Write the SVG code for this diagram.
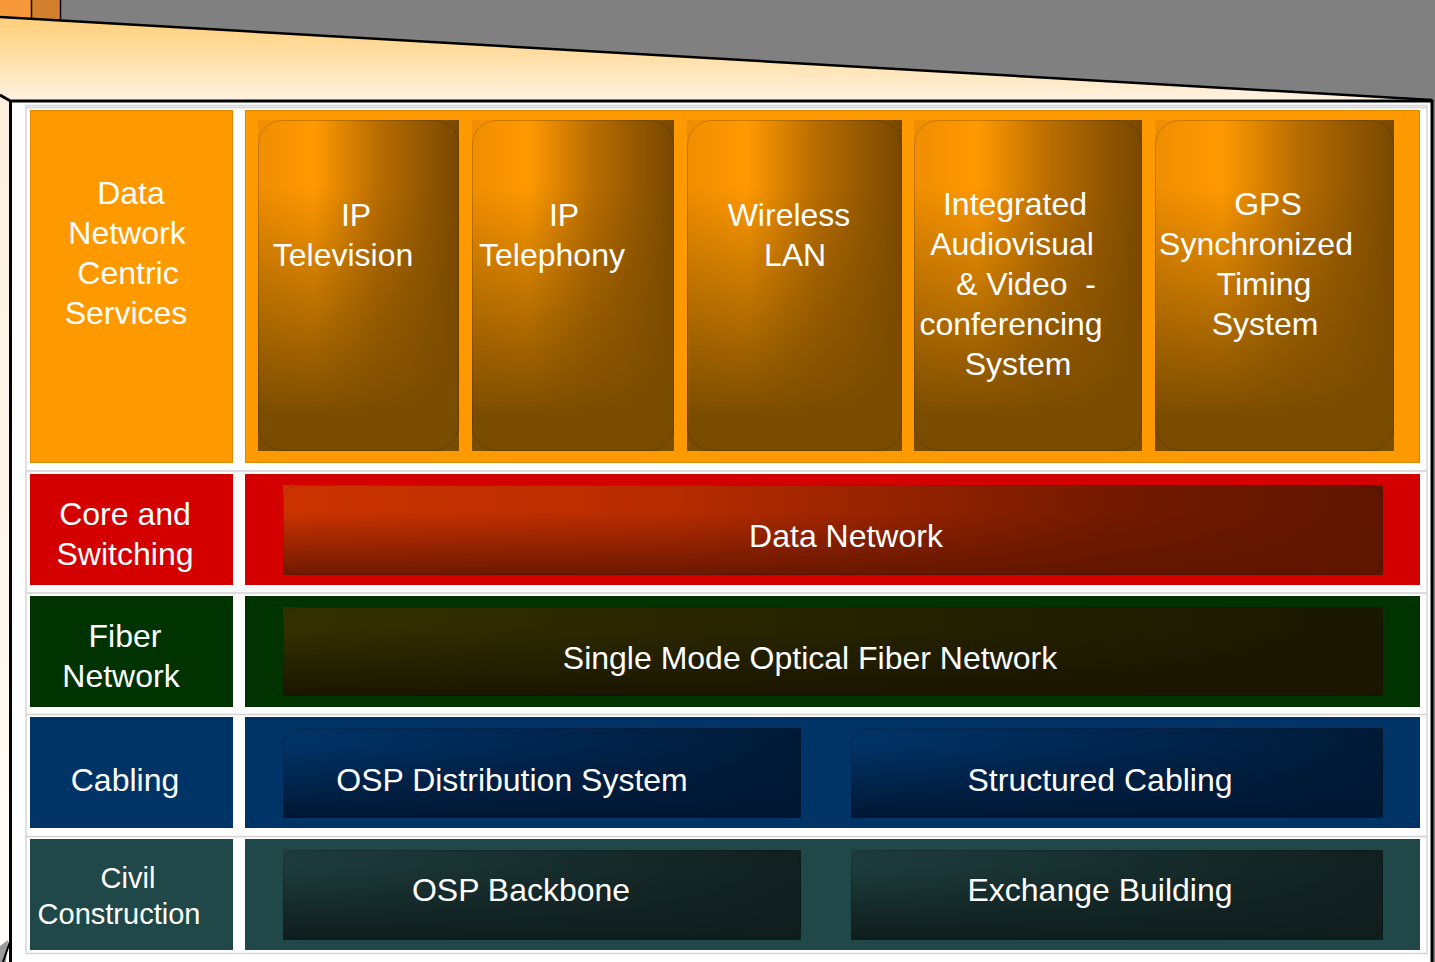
<svg xmlns="http://www.w3.org/2000/svg" width="1435" height="962" viewBox="0 0 1435 962">
  <defs>
    <linearGradient id="sky" gradientUnits="userSpaceOnUse" x1="0" y1="18" x2="0" y2="102">
      <stop offset="0" stop-color="#FFCF7A"/>
      <stop offset="0.5" stop-color="#FFE0AA"/>
      <stop offset="1" stop-color="#FFF4E6"/>
    </linearGradient>
    <linearGradient id="side" x1="0" y1="0" x2="0" y2="1">
      <stop offset="0" stop-color="#FFF0DD"/>
      <stop offset="1" stop-color="#FFFDFA"/>
    </linearGradient>
    <!-- service tiles: orange to brown sideways, brown toward the bottom -->
    <linearGradient id="orH" x1="0" y1="0" x2="1" y2="0">
      <stop offset="0" stop-color="#F08E00"/>
      <stop offset="0.28" stop-color="#FF9900"/>
      <stop offset="0.6" stop-color="#B86C00"/>
      <stop offset="1" stop-color="#784800"/>
    </linearGradient>
    <linearGradient id="orV" x1="0" y1="0" x2="0" y2="1">
      <stop offset="0" stop-color="#7A4C00" stop-opacity="0"/>
      <stop offset="0.2" stop-color="#7A4C00" stop-opacity="0"/>
      <stop offset="0.9" stop-color="#7A4C00" stop-opacity="1"/>
      <stop offset="1" stop-color="#7A4C00" stop-opacity="1"/>
    </linearGradient>
    <linearGradient id="rdH" x1="0" y1="0" x2="1" y2="0">
      <stop offset="0" stop-color="#CC3300"/>
      <stop offset="0.35" stop-color="#B82C00"/>
      <stop offset="0.75" stop-color="#741A00"/>
      <stop offset="1" stop-color="#5E1500"/>
    </linearGradient>
    <linearGradient id="rdV" x1="0" y1="0" x2="0" y2="1">
      <stop offset="0" stop-color="#5E1500" stop-opacity="0"/>
      <stop offset="0.3" stop-color="#5E1500" stop-opacity="0"/>
      <stop offset="1" stop-color="#5E1500" stop-opacity="0.85"/>
    </linearGradient>
    <linearGradient id="gnH" x1="0" y1="0" x2="1" y2="0">
      <stop offset="0" stop-color="#333000"/>
      <stop offset="0.5" stop-color="#262300"/>
      <stop offset="1" stop-color="#1A1700"/>
    </linearGradient>
    <linearGradient id="gnV" x1="0" y1="0" x2="0" y2="1">
      <stop offset="0" stop-color="#1A1600" stop-opacity="0"/>
      <stop offset="0.25" stop-color="#1A1600" stop-opacity="0"/>
      <stop offset="1" stop-color="#1A1600" stop-opacity="1"/>
    </linearGradient>
    <linearGradient id="blH" x1="0" y1="0" x2="1" y2="0">
      <stop offset="0" stop-color="#003366"/>
      <stop offset="0.5" stop-color="#002650"/>
      <stop offset="1" stop-color="#001A36"/>
    </linearGradient>
    <linearGradient id="blV" x1="0" y1="0" x2="0" y2="1">
      <stop offset="0" stop-color="#001733" stop-opacity="0"/>
      <stop offset="0.2" stop-color="#001733" stop-opacity="0"/>
      <stop offset="1" stop-color="#001733" stop-opacity="1"/>
    </linearGradient>
    <linearGradient id="tlH" x1="0" y1="0" x2="1" y2="0">
      <stop offset="0" stop-color="#1E3C3C"/>
      <stop offset="0.5" stop-color="#172E2E"/>
      <stop offset="1" stop-color="#112020"/>
    </linearGradient>
    <linearGradient id="tlV" x1="0" y1="0" x2="0" y2="1">
      <stop offset="0" stop-color="#0F1D1D" stop-opacity="0"/>
      <stop offset="0.2" stop-color="#0F1D1D" stop-opacity="0"/>
      <stop offset="1" stop-color="#0F1D1D" stop-opacity="1"/>
    </linearGradient>
  </defs>
  <style>
    text { font-family: "Liberation Sans", Arial, sans-serif; font-size: 32px; fill: #FFFFFF; text-anchor: middle; }
    .small { font-size: 29px; }
    .edge { fill: none; stroke: #000000; stroke-width: 3; }
    .div { stroke: #D2D2D2; stroke-width: 1.5; }
    .tileLine { fill: none; stroke: #000000; stroke-opacity: 0.18; stroke-width: 1; }
    .orange { fill: #FF9900; stroke: #E08700; stroke-width: 1; }
    .red { fill: #D40000; }
    .green { fill: #003300; }
    .blue { fill: #003366; }
    .teal { fill: #214848; }
  </style>

  <!-- backdrop -->
  <rect x="0" y="0" width="1435" height="962" fill="#808080"/>
  <polygon points="0,17 1432,100 1435,100 1435,962 0,962" fill="url(#sky)"/>
  <rect x="0" y="96" width="12" height="866" fill="url(#side)"/>
  <rect x="0" y="0" width="31" height="18" fill="#F7993A"/>
  <rect x="32" y="0" width="28" height="19" fill="#D2802E"/>
  <line x1="31.5" y1="0" x2="31.5" y2="18" stroke="#000" stroke-width="1.5"/>
  <line x1="60.5" y1="0" x2="60.5" y2="20" stroke="#000" stroke-width="1.5"/>
  <line x1="0" y1="17" x2="1432" y2="100" stroke="#000" stroke-width="2.5"/>
  <polygon points="1432,100 1435,100 1435,962 1432,962" fill="#808080"/>
  <polygon points="0,946 8,940 6,962 0,962" fill="#9A9A9A"/>

  <!-- panel -->
  <rect x="11" y="101" width="1421" height="861" fill="#FFFFFF"/>
  <path class="edge" d="M0,95 L10.5,101 L10.5,962 M10.5,101 L1432,101 L1432,962"/>
  <path d="M10.5,940 L3,962" stroke="#000" stroke-width="2" fill="none"/>
  <rect x="26" y="105.5" width="1401" height="848" fill="none" stroke="#D6D6D6" stroke-width="1.5"/>
  <g id="dividers">
    <line class="div" x1="26" y1="107.5" x2="1427" y2="107.5"/>
    <line class="div" x1="26" y1="471" x2="1427" y2="471"/>
    <line class="div" x1="26" y1="593" x2="1427" y2="593"/>
    <line class="div" x1="26" y1="714.5" x2="1427" y2="714.5"/>
    <line class="div" x1="26" y1="836.5" x2="1427" y2="836.5"/>
  </g>

  <!-- layer: services -->
  <g id="layer-services">
    <rect class="orange" x="30.5" y="110.5" width="202" height="352"/>
    <rect class="orange" x="245.5" y="110.5" width="1174" height="352"/>
    <text x="131" y="204">Data</text>
    <text x="127" y="244">Network</text>
    <text x="128" y="284">Centric</text>
    <text x="126" y="324">Services</text>
  </g>
  <g id="svc-iptv">
    <rect x="258" y="120" width="201" height="331" fill="url(#orH)"/>
    <rect x="258" y="120" width="201" height="331" fill="url(#orV)"/>
    <rect class="tileLine" x="258.5" y="120.5" width="200" height="330" rx="24"/>
    <text x="356" y="226">IP</text>
    <text x="343" y="266">Television</text>
  </g>
  <g id="svc-iptel">
    <rect x="472" y="120" width="202" height="331" fill="url(#orH)"/>
    <rect x="472" y="120" width="202" height="331" fill="url(#orV)"/>
    <rect class="tileLine" x="472.5" y="120.5" width="201" height="330" rx="24"/>
    <text x="564" y="226">IP</text>
    <text x="552" y="266">Telephony</text>
  </g>
  <g id="svc-wlan">
    <rect x="687" y="120" width="215" height="331" fill="url(#orH)"/>
    <rect x="687" y="120" width="215" height="331" fill="url(#orV)"/>
    <rect class="tileLine" x="687.5" y="120.5" width="214" height="330" rx="24"/>
    <text x="789" y="226">Wireless</text>
    <text x="795" y="266">LAN</text>
  </g>
  <g id="svc-av">
    <rect x="914" y="120" width="228" height="331" fill="url(#orH)"/>
    <rect x="914" y="120" width="228" height="331" fill="url(#orV)"/>
    <rect class="tileLine" x="914.5" y="120.5" width="227" height="330" rx="24"/>
    <text x="1015" y="215">Integrated</text>
    <text x="1012" y="255">Audiovisual</text>
    <text x="956" y="295" style="text-anchor:start" xml:space="preserve">&amp; Video  -</text>
    <text x="1011" y="335">conferencing</text>
    <text x="1018" y="375">System</text>
  </g>
  <g id="svc-gps">
    <rect x="1155" y="120" width="239" height="331" fill="url(#orH)"/>
    <rect x="1155" y="120" width="239" height="331" fill="url(#orV)"/>
    <rect class="tileLine" x="1155.5" y="120.5" width="238" height="330" rx="24"/>
    <text x="1268" y="215">GPS</text>
    <text x="1256" y="255">Synchronized</text>
    <text x="1264" y="295">Timing</text>
    <text x="1265" y="335">System</text>
  </g>

  <!-- layer: core and switching -->
  <g id="layer-core">
    <rect class="red" x="30" y="474" width="203" height="111"/>
    <rect class="red" x="245" y="474" width="1175" height="111"/>
    <text x="125" y="525">Core and</text>
    <text x="125" y="565">Switching</text>
  </g>
  <g id="data-network">
    <rect x="283" y="485" width="1100" height="90" fill="url(#rdH)"/>
    <rect x="283" y="485" width="1100" height="90" fill="url(#rdV)"/>
    <rect class="tileLine" x="283.5" y="485.5" width="1099" height="89" rx="14"/>
    <text x="846" y="547">Data Network</text>
  </g>

  <!-- layer: fiber -->
  <g id="layer-fiber">
    <rect class="green" x="30" y="596" width="203" height="111"/>
    <rect class="green" x="245" y="596" width="1175" height="111"/>
    <text x="125" y="647">Fiber</text>
    <text x="121" y="687">Network</text>
  </g>
  <g id="fiber-network">
    <rect x="283" y="607" width="1100" height="89" fill="url(#gnH)"/>
    <rect x="283" y="607" width="1100" height="89" fill="url(#gnV)"/>
    <rect class="tileLine" x="283.5" y="607.5" width="1099" height="88" rx="14"/>
    <text x="810" y="669">Single Mode Optical Fiber Network</text>
  </g>

  <!-- layer: cabling -->
  <g id="layer-cabling">
    <rect class="blue" x="30" y="717" width="203" height="111"/>
    <rect class="blue" x="245" y="717" width="1175" height="111"/>
    <text x="125" y="791">Cabling</text>
  </g>
  <g id="osp-distribution">
    <rect x="283" y="728" width="518" height="90" fill="url(#blH)"/>
    <rect x="283" y="728" width="518" height="90" fill="url(#blV)"/>
    <rect class="tileLine" x="283.5" y="728.5" width="517" height="89" rx="14"/>
    <text x="512" y="791">OSP Distribution System</text>
  </g>
  <g id="structured-cabling">
    <rect x="851" y="728" width="532" height="90" fill="url(#blH)"/>
    <rect x="851" y="728" width="532" height="90" fill="url(#blV)"/>
    <rect class="tileLine" x="851.5" y="728.5" width="531" height="89" rx="14"/>
    <text x="1100" y="791">Structured Cabling</text>
  </g>

  <!-- layer: civil -->
  <g id="layer-civil">
    <rect class="teal" x="30" y="839" width="203" height="111"/>
    <rect class="teal" x="245" y="839" width="1175" height="111"/>
    <text class="small" x="128" y="888">Civil</text>
    <text class="small" x="119" y="924">Construction</text>
  </g>
  <g id="osp-backbone">
    <rect x="283" y="850" width="518" height="90" fill="url(#tlH)"/>
    <rect x="283" y="850" width="518" height="90" fill="url(#tlV)"/>
    <rect class="tileLine" x="283.5" y="850.5" width="517" height="89" rx="14"/>
    <text x="521" y="901">OSP Backbone</text>
  </g>
  <g id="exchange-building">
    <rect x="851" y="850" width="532" height="90" fill="url(#tlH)"/>
    <rect x="851" y="850" width="532" height="90" fill="url(#tlV)"/>
    <rect class="tileLine" x="851.5" y="850.5" width="531" height="89" rx="14"/>
    <text x="1100" y="901">Exchange Building</text>
  </g>

  <g id="connectors"></g>
</svg>
